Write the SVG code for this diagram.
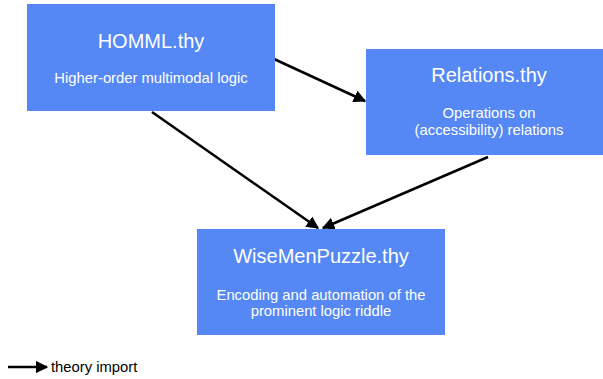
<svg xmlns="http://www.w3.org/2000/svg" width="603" height="379" viewBox="0 0 603 379">
  <style>
    .box { fill: #5588f5; }
    .title { font-family: "Liberation Sans", Arial, sans-serif; font-size: 20px; fill: #ffffff; text-anchor: middle; }
    .sub { font-family: "Liberation Sans", Arial, sans-serif; font-size: 14.8px; fill: #ffffff; text-anchor: middle; }
    .edge { stroke: #000000; stroke-width: 2.5; fill: none; marker-end: url(#arrow); }
    .legend { font-family: "Liberation Sans", Arial, sans-serif; font-size: 14.8px; fill: #000000; }
  </style>
  <defs>
    <marker id="arrow" viewBox="0 0 10 10" refX="9" refY="5" markerWidth="5" markerHeight="5" orient="auto" markerUnits="strokeWidth">
      <path d="M0,0 L10,5 L0,10 z" fill="#000000"/>
    </marker>
  </defs>
  <rect width="603" height="379" fill="#ffffff"/>

  <g id="connectors">
    <line class="edge" x1="274" y1="59" x2="365" y2="101"/>
    <line class="edge" x1="152" y1="112" x2="318" y2="228"/>
    <line class="edge" x1="488" y1="157" x2="323" y2="228"/>
  </g>

  <g id="homml">
    <rect class="box" x="27" y="4" width="248" height="107"/>
    <text class="title" x="151" y="48">HOMML.thy</text>
    <text class="sub" x="151" y="83">Higher-order multimodal logic</text>
  </g>

  <g id="relations">
    <rect class="box" x="366" y="49" width="237" height="106"/>
    <text class="title" x="489" y="82">Relations.thy</text>
    <text class="sub" x="489" y="118">Operations on</text>
    <text class="sub" x="489" y="135">(accessibility) relations</text>
  </g>

  <g id="wisemen">
    <rect class="box" x="197" y="229" width="248" height="106"/>
    <text class="title" x="321" y="263">WiseMenPuzzle.thy</text>
    <text class="sub" x="321" y="300">Encoding and automation of the</text>
    <text class="sub" x="321" y="316">prominent logic riddle</text>
  </g>

  <g id="legend">
    <line class="edge" x1="8" y1="367" x2="47" y2="367"/>
    <text class="legend" x="51" y="372">theory import</text>
  </g>
</svg>
